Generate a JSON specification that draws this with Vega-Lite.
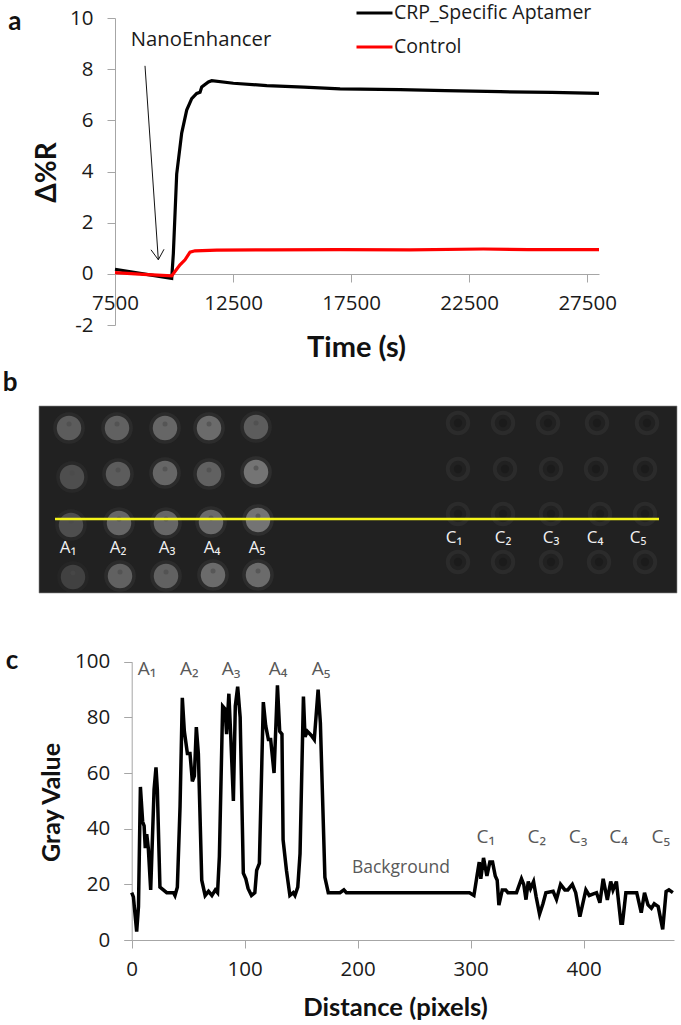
{"$schema":"https://vega.github.io/schema/vega-lite/v6.json","background":"white","padding":0,"spacing":0,"bounds":"flush","config":{"view":{"stroke":null},"font":"Open Sans"},
"datasets":{
"sensor":[
{"t":7500,"v":0.18,"s":"CRP_Specific Aptamer"},{"t":8700,"v":0.0,"s":"CRP_Specific Aptamer"},{"t":9902,"v":-0.18,"s":"CRP_Specific Aptamer"},{"t":9972,"v":0.8,"s":"CRP_Specific Aptamer"},{"t":10113,"v":3.9,"s":"CRP_Specific Aptamer"},{"t":10325,"v":5.5,"s":"CRP_Specific Aptamer"},{"t":10537,"v":6.4,"s":"CRP_Specific Aptamer"},{"t":10749,"v":6.85,"s":"CRP_Specific Aptamer"},{"t":10961,"v":7.05,"s":"CRP_Specific Aptamer"},{"t":11102,"v":7.1,"s":"CRP_Specific Aptamer"},{"t":11173,"v":7.3,"s":"CRP_Specific Aptamer"},{"t":11456,"v":7.5,"s":"CRP_Specific Aptamer"},{"t":11597,"v":7.55,"s":"CRP_Specific Aptamer"},{"t":12513,"v":7.45,"s":"CRP_Specific Aptamer"},{"t":13927,"v":7.36,"s":"CRP_Specific Aptamer"},{"t":15500,"v":7.3,"s":"CRP_Specific Aptamer"},{"t":17033,"v":7.23,"s":"CRP_Specific Aptamer"},{"t":19575,"v":7.2,"s":"CRP_Specific Aptamer"},{"t":21500,"v":7.16,"s":"CRP_Specific Aptamer"},{"t":23812,"v":7.12,"s":"CRP_Specific Aptamer"},{"t":26000,"v":7.09,"s":"CRP_Specific Aptamer"},{"t":28000,"v":7.05,"s":"CRP_Specific Aptamer"},
{"t":7500,"v":0.05,"s":"Control"},{"t":8700,"v":-0.02,"s":"Control"},{"t":9900,"v":-0.08,"s":"Control"},{"t":10254,"v":0.35,"s":"Control"},{"t":10466,"v":0.55,"s":"Control"},{"t":10678,"v":0.85,"s":"Control"},{"t":10890,"v":0.9,"s":"Control"},{"t":11807,"v":0.93,"s":"Control"},{"t":13927,"v":0.94,"s":"Control"},{"t":17033,"v":0.95,"s":"Control"},{"t":20000,"v":0.94,"s":"Control"},{"t":23100,"v":0.97,"s":"Control"},{"t":25000,"v":0.95,"s":"Control"},{"t":28000,"v":0.95,"s":"Control"}],
"arrow":[{"t":8771,"v":8.13,"p":"shaft"},{"t":9335,"v":0.55,"p":"shaft"},{"t":9025,"v":0.94,"p":"head"},{"t":9335,"v":0.55,"p":"head"},{"t":9576,"v":0.96,"p":"head"}],
"notesA":[{"t":3263,"v":9.85,"label":"a","kind":"panel"},{"t":11144,"v":9.15,"label":"NanoEnhancer","kind":"note"}],
"plate":[{"x":39,"x2":677,"y":406,"y2":593}],
"line":[{"x":55,"y":519},{"x":659,"y":519}],
"spotsA":[
{"x":69,"y":428,"g":100},{"x":117,"y":428,"g":105},{"x":165,"y":428,"g":110},{"x":209,"y":428,"g":115},{"x":256,"y":427,"g":100},
{"x":72,"y":477,"g":85},{"x":118,"y":474,"g":100},{"x":165,"y":473,"g":110},{"x":209,"y":474,"g":105},{"x":256,"y":472,"g":125},
{"x":71,"y":525,"g":85},{"x":119,"y":523,"g":110},{"x":166,"y":523,"g":110},{"x":211,"y":522,"g":115},{"x":258,"y":520,"g":125},
{"x":73,"y":577,"g":70},{"x":120,"y":576,"g":105},{"x":166,"y":576,"g":105},{"x":213,"y":575,"g":115},{"x":258,"y":575,"g":115}],
"spotsC":[
{"x":458,"y":423},{"x":503,"y":423},{"x":548,"y":423},{"x":597,"y":423},{"x":647,"y":423},
{"x":458,"y":469},{"x":505,"y":469},{"x":551,"y":469},{"x":596,"y":469},{"x":645,"y":469},
{"x":458,"y":514},{"x":503,"y":514},{"x":551,"y":514},{"x":600,"y":514},{"x":645,"y":514},
{"x":458,"y":562},{"x":503,"y":562},{"x":551,"y":562},{"x":599,"y":562},{"x":645,"y":562}],
"plateLabels":[{"x":68,"y":548,"t":"A₁"},{"x":118,"y":548,"t":"A₂"},{"x":167,"y":548,"t":"A₃"},{"x":212,"y":548,"t":"A₄"},{"x":257,"y":548,"t":"A₅"},{"x":454,"y":538,"t":"C₁"},{"x":503,"y":538,"t":"C₂"},{"x":551,"y":538,"t":"C₃"},{"x":595,"y":538,"t":"C₄"},{"x":638,"y":538,"t":"C₅"}],
"profile":[{"x":0,"v":17},{"x":1.5,"v":15.5},{"x":4.4,"v":3},{"x":6,"v":12},{"x":7.7,"v":55},{"x":9.7,"v":42.5},{"x":11,"v":41},{"x":12,"v":33},{"x":13.3,"v":38},{"x":14.7,"v":33},{"x":16.8,"v":18},{"x":19.8,"v":54},{"x":21.5,"v":62},{"x":22.7,"v":54},{"x":25,"v":19},{"x":28,"v":18},{"x":31,"v":17},{"x":37,"v":17},{"x":38.3,"v":16},{"x":40.4,"v":19},{"x":42.8,"v":48},{"x":44.8,"v":87},{"x":46.6,"v":75},{"x":49.3,"v":67},{"x":51.6,"v":67},{"x":53.7,"v":57},{"x":55.5,"v":59},{"x":57.2,"v":76.5},{"x":59,"v":67},{"x":62,"v":21.5},{"x":65,"v":16},{"x":68,"v":17.5},{"x":71,"v":16},{"x":74,"v":18},{"x":76,"v":17},{"x":77.6,"v":30},{"x":80.5,"v":84},{"x":82.6,"v":83},{"x":84,"v":74},{"x":86,"v":88.5},{"x":87.6,"v":74},{"x":90,"v":50},{"x":91.7,"v":84},{"x":93.8,"v":91},{"x":96,"v":80},{"x":98.8,"v":24},{"x":101,"v":22},{"x":103,"v":18.5},{"x":106,"v":16},{"x":109,"v":17},{"x":110.6,"v":25},{"x":113,"v":27.5},{"x":116.5,"v":85.5},{"x":118.6,"v":77},{"x":121,"v":72},{"x":123,"v":72},{"x":126,"v":60},{"x":129,"v":91.5},{"x":131,"v":75},{"x":133,"v":74},{"x":134,"v":36},{"x":137,"v":25},{"x":140,"v":16},{"x":143,"v":17},{"x":144.5,"v":16},{"x":147,"v":19},{"x":149,"v":31},{"x":152,"v":87.5},{"x":153.4,"v":73},{"x":155.5,"v":75},{"x":159,"v":73.5},{"x":161.6,"v":72},{"x":165,"v":90},{"x":167,"v":78},{"x":171,"v":22.5},{"x":174,"v":17},{"x":184.4,"v":17},{"x":187.8,"v":18},{"x":190,"v":17},{"x":299,"v":17},{"x":302.9,"v":16},{"x":306,"v":24},{"x":307.6,"v":28},{"x":309,"v":22},{"x":311.4,"v":29.5},{"x":314.4,"v":23},{"x":317,"v":28},{"x":319.4,"v":28},{"x":321.8,"v":23},{"x":323.5,"v":21.5},{"x":325,"v":12.5},{"x":328,"v":18},{"x":331,"v":18},{"x":333,"v":17},{"x":340.6,"v":17},{"x":345,"v":22},{"x":347,"v":20},{"x":349,"v":14.5},{"x":351,"v":21},{"x":353,"v":18.5},{"x":355.7,"v":21},{"x":358,"v":15.5},{"x":361,"v":9.3},{"x":364,"v":13},{"x":366.6,"v":17},{"x":373,"v":17.5},{"x":376,"v":14.6},{"x":379.6,"v":20},{"x":383.4,"v":18},{"x":386,"v":18},{"x":390,"v":20},{"x":393,"v":17},{"x":396.7,"v":8.4},{"x":402,"v":18},{"x":405,"v":16},{"x":411.4,"v":17},{"x":414.4,"v":13.4},{"x":417.3,"v":22},{"x":421,"v":14.4},{"x":424,"v":21},{"x":426,"v":18},{"x":429,"v":21},{"x":433,"v":6},{"x":434.4,"v":6},{"x":437.4,"v":17},{"x":447,"v":17},{"x":451,"v":9.8},{"x":453.9,"v":17},{"x":457,"v":12.6},{"x":460,"v":11.4},{"x":462.5,"v":13},{"x":466,"v":12},{"x":470,"v":3.8},{"x":473,"v":17.4},{"x":475.5,"v":18},{"x":479,"v":17}],
"profileLabels":[{"x":13.5,"v":97.2,"t":"A₁"},{"x":51,"v":97.2,"t":"A₂"},{"x":88,"v":97.2,"t":"A₃"},{"x":129.5,"v":97.2,"t":"A₄"},{"x":167.5,"v":97.2,"t":"A₅"},{"x":313.5,"v":37,"t":"C₁"},{"x":358.6,"v":37,"t":"C₂"},{"x":395,"v":37,"t":"C₃"},{"x":431,"v":37,"t":"C₄"},{"x":468.4,"v":37,"t":"C₅"}],
"profileNote":[{"x":238.3,"v":26,"t":"Background"}]
},
"vconcat":[
{"width":681,"height":370,
"encoding":{
"x":{"field":"t","type":"quantitative","scale":{"domain":[7500,28000],"range":[115,599],"nice":false,"zero":false},
"axis":{"title":"Time (s)","values":[7500,12500,17500,22500,27500],"format":"d","grid":false,"labelFlush":false,"offset":-96,"domainColor":"#a6a6a6","tickColor":"#a6a6a6","tickSize":8,"labelFontSize":20.5,"labelColor":"#1a1a1a","labelPadding":11,"titleFont":"Lato","titleFontSize":29,"titleFontWeight":"bold","titleColor":"#111","titleX":356,"titleY":73,"titleBaseline":"middle"}},
"y":{"field":"v","type":"quantitative","scale":{"domain":[-2,10],"range":[325,18],"nice":false,"zero":false},
"axis":{"title":"Δ%R","values":[-2,0,2,4,6,8,10],"labelExpr":"'' + datum.value","grid":false,"labelFlush":false,"offset":-115,"domainColor":"#a6a6a6","tickColor":"#a6a6a6","tickSize":8,"labelFontSize":20.5,"labelColor":"#1a1a1a","labelPadding":14,"titleFont":"Lato","titleFontSize":28,"titleFontWeight":"bold","titleColor":"#111","titleX":-68,"titleY":172,"titleBaseline":"middle"}}},
"layer":[
{"data":{"name":"sensor"},"mark":{"type":"line","strokeWidth":3.2},"encoding":{"color":{"field":"s","type":"nominal","scale":{"domain":["CRP_Specific Aptamer","Control"],"range":["#000000","#ff0000"]},"legend":{"orient":"none","legendX":355,"legendY":1,"title":null,"symbolType":"stroke","symbolSize":1296,"symbolStrokeWidth":3,"labelFontSize":19.5,"labelLimit":320,"labelColor":"#1a1a1a","clipHeight":24,"rowPadding":10,"labelOffset":0,"padding":0}}}},
{"data":{"name":"arrow"},"mark":{"type":"line","color":"#111","strokeWidth":1},"encoding":{"detail":{"field":"p"},"order":{"field":"t"}}},
{"data":{"name":"notesA"},"transform":[{"filter":"datum.kind==='note'"}],"mark":{"type":"text","fontSize":20.3,"color":"#1a1a1a"},"encoding":{"text":{"field":"label"}}},
{"data":{"name":"notesA"},"transform":[{"filter":"datum.kind==='panel'"}],"mark":{"type":"text","fontSize":26,"fontWeight":"bold","font":"Lato","color":"#111"},"encoding":{"text":{"field":"label"}}}
]},
{"width":681,"height":240,
"encoding":{
"x":{"field":"x","type":"quantitative","scale":{"domain":[0,681],"range":[0,681],"nice":false,"zero":false},"axis":null},
"y":{"field":"y","type":"quantitative","scale":{"domain":[370,610],"range":[0,240],"nice":false,"zero":false},"axis":null}},
"layer":[
{"data":{"values":[{"x":10,"y":383,"label":"b"}]},"mark":{"type":"text","fontSize":26,"fontWeight":"bold","font":"Lato","color":"#111"},"encoding":{"text":{"field":"label"}}},
{"data":{"name":"plate"},"mark":{"type":"rect","fill":"#212121","stroke":"#8c8c8c","strokeWidth":0.6},"encoding":{"x2":{"field":"x2"},"y2":{"field":"y2"}}},
{"data":{"name":"spotsC"},"mark":{"type":"point","filled":false,"size":420,"stroke":"#303030","strokeWidth":4}},
{"data":{"name":"spotsC"},"mark":{"type":"point","filled":true,"size":70,"color":"#1a1a1a","opacity":0.8}},
{"data":{"name":"spotsA"},"mark":{"type":"point","filled":true,"size":1000,"opacity":0.16},"encoding":{"color":{"field":"g","type":"quantitative","scale":{"domain":[0,255],"range":["#000000","#ffffff"]},"legend":null}}},
{"data":{"name":"spotsA"},"mark":{"type":"point","filled":true,"size":600,"opacity":1},"encoding":{"color":{"field":"g","type":"quantitative","scale":{"domain":[0,255],"range":["#000000","#ffffff"]},"legend":null}}},
{"data":{"name":"spotsA"},"mark":{"type":"point","filled":true,"size":25,"color":"#4a4a4a","yOffset":-4,"opacity":0.6}},
{"data":{"name":"line"},"mark":{"type":"line","color":"#f5f51a","strokeWidth":2.4}},
{"data":{"name":"plateLabels"},"mark":{"type":"text","fontSize":17,"color":"#f0f0f0"},"encoding":{"text":{"field":"t"}}}
]},
{"width":681,"height":415,
"encoding":{
"x":{"field":"x","type":"quantitative","scale":{"domain":[0,480],"range":[131.7,674],"nice":false,"zero":false},
"axis":{"title":"Distance (pixels)","values":[0,100,200,300,400],"grid":false,"labelFlush":false,"offset":-85,"domainColor":"#a6a6a6","tickColor":"#a6a6a6","tickSize":8,"labelFontSize":20.5,"labelColor":"#1a1a1a","labelPadding":11,"titleFont":"Lato","titleFontSize":25.6,"titleFontWeight":"bold","titleColor":"#111","titleX":395,"titleY":67,"titleBaseline":"middle"}},
"y":{"field":"v","type":"quantitative","scale":{"domain":[0,100],"range":[330,51.7],"nice":false,"zero":false},
"axis":{"title":"Gray Value","values":[0,20,40,60,80,100],"grid":false,"labelFlush":false,"offset":-131.7,"domainColor":"#a6a6a6","tickColor":"#a6a6a6","tickSize":8,"labelFontSize":20.5,"labelColor":"#1a1a1a","labelPadding":14,"titleFont":"Lato","titleFontSize":25,"titleFontWeight":"bold","titleColor":"#111","titleX":-80,"titleY":192,"titleBaseline":"middle"}}},
"layer":[
{"data":{"name":"profile"},"mark":{"type":"line","color":"#000000","strokeWidth":3.5}},
{"data":{"name":"profileLabels"},"mark":{"type":"text","fontSize":19,"color":"#595959"},"encoding":{"text":{"field":"t"}}},
{"data":{"name":"profileNote"},"mark":{"type":"text","fontSize":17.5,"color":"#595959"},"encoding":{"text":{"field":"t"}}},
{"data":{"values":[{"x":-106,"v":100.4,"label":"c"}]},"mark":{"type":"text","fontSize":26,"fontWeight":"bold","font":"Lato","color":"#111"},"encoding":{"text":{"field":"label"}}}
]}
]}
